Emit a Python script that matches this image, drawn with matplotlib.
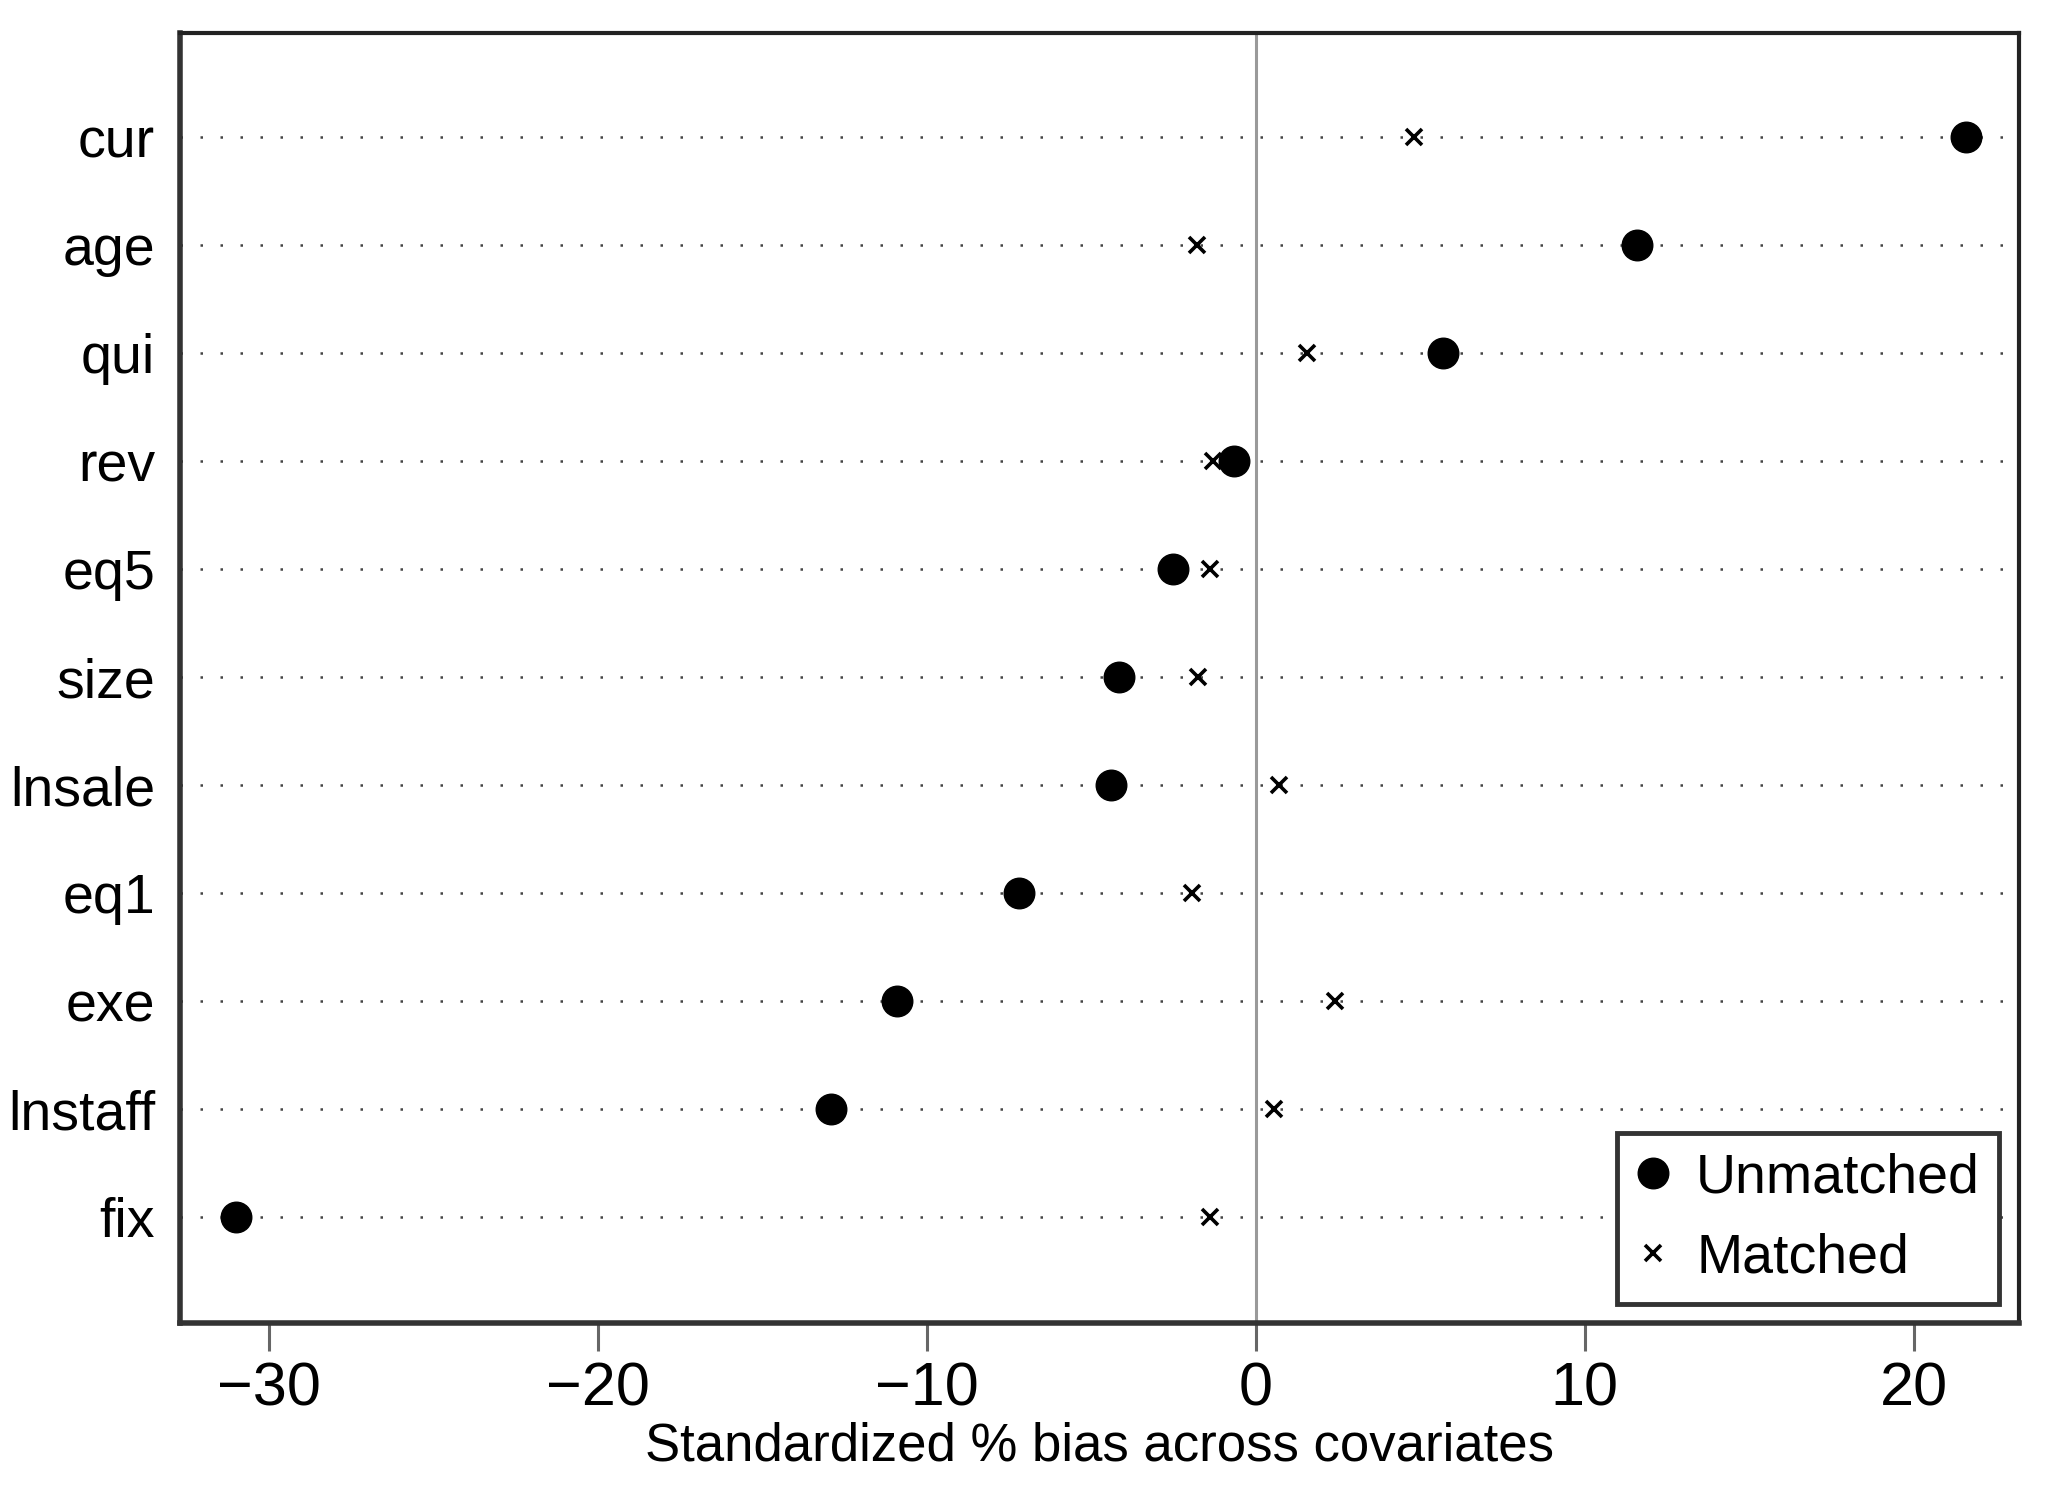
import matplotlib
matplotlib.use("Agg")
import matplotlib.pyplot as plt
from matplotlib.lines import Line2D

categories = ["cur", "age", "qui", "rev", "eq5", "size", "lnsale", "eq1", "exe", "lnstaff", "fix"]
unmatched = [21.6, 11.6, 5.7, -0.65, -2.5, -4.15, -4.4, -7.2, -10.9, -12.9, -31.0]
matched = [4.8, -1.8, 1.55, -1.3, -1.4, -1.75, 0.7, -1.95, 2.4, 0.55, -1.4]
xticks = [-30, -20, -10, 0, 10, 20]
xlabel = "Standardized % bias across covariates"

plt.rcParams['font.family'] = ['Liberation Sans Narrow', 'Liberation Sans', 'DejaVu Sans']
plt.rcParams['axes.unicode_minus'] = True

fig = plt.figure(figsize=(20.58, 14.86), dpi=100)
ax = fig.add_axes([0.0875, 0.1097, 0.8935, 0.8683])

n = len(categories)
ypos = [n - 1 - i for i in range(n)]

for y in ypos:
    ax.axhline(y, color='#444444', linestyle=(0, (1, 7)), linewidth=1.8, zorder=1)
ax.axvline(0, color='#9a9a9a', linewidth=2.2, zorder=1)

ax.plot(unmatched, ypos, 'o', color='black', markersize=22, linestyle='none', zorder=3, label='Unmatched')
ax.plot(matched, ypos, 'x', color='black', markersize=11, markeredgewidth=2.6, linestyle='none', zorder=4, label='Matched')

ax.set_xlim(-32.7, 23.2)
ax.set_ylim(-0.98, n - 1 + 0.97)
ax.set_yticks(ypos)
ax.set_yticklabels(categories, fontsize=40)
ax.set_xticks(xticks)
ax.set_xticklabels([("\u2212" + str(-v)) if v < 0 else str(v) for v in xticks], fontsize=44)
ax.tick_params(axis='y', length=0, pad=18)
ax.tick_params(axis='x', length=20, width=2.2, color='#666666', pad=8, direction='out')
ax.set_xlabel(xlabel, fontsize=38, labelpad=2)

for side in ['left', 'bottom']:
    ax.spines[side].set_linewidth(4)
    ax.spines[side].set_color('#333333')
for side in ['top', 'right']:
    ax.spines[side].set_linewidth(3)
    ax.spines[side].set_color('#222222')

handles = [
    Line2D([], [], marker='o', color='black', linestyle='none', markersize=22),
    Line2D([], [], marker='x', color='black', linestyle='none', markersize=11, markeredgewidth=2.6),
]
leg = ax.legend(handles, ['Unmatched', 'Matched'], loc='lower right', fontsize=40,
                frameon=True, fancybox=False, edgecolor='#333333', framealpha=1,
                borderpad=0.35, handletextpad=0.48, handlelength=0.6,
                labelspacing=0.49, borderaxespad=0.35)
leg.get_frame().set_linewidth(3.5)

fig.savefig("out.png", dpi=100)
